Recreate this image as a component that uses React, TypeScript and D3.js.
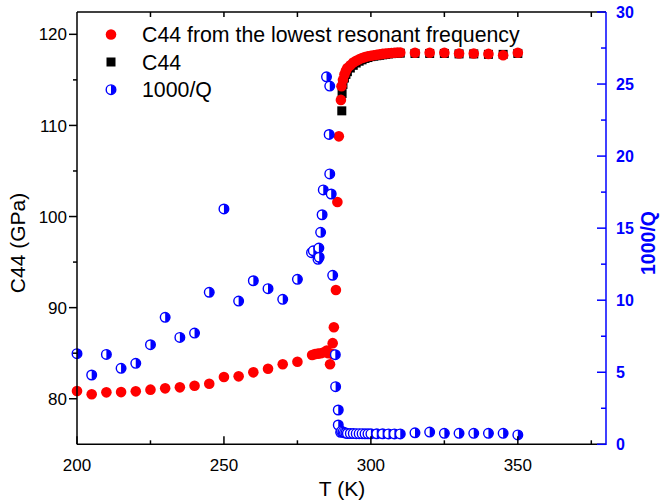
import React from "react";
import * as d3 from "d3";

// ---------- data ----------
// C44 from the lowest resonant frequency (red circles), left axis
const redT = [200, 205, 210, 215, 220, 225, 230, 235, 240, 245, 250, 255, 260, 265, 270, 275, 280, 281, 282, 283, 284, 285, 285.5, 286.1, 286.9, 287.0, 287.4, 288.1, 288.6, 289.1, 289.8, 290.0, 290.5, 291, 291.5, 292, 293, 294, 295, 296, 297, 298, 299, 300, 301, 302, 303, 304, 305, 306, 307, 308, 309, 310, 315, 320, 325, 330, 335, 340, 345, 350];
const redV = [80.85, 80.5, 80.7, 80.73, 80.81, 81.0, 81.14, 81.25, 81.43, 81.65, 82.38, 82.46, 82.9, 83.3, 83.78, 84.06, 84.8, 84.9, 84.95, 85.0, 85.1, 85.3, 85.0, 83.78, 84.9, 86.1, 87.85, 91.93, 101.6, 108.8, 112.8, 114.3, 115.0, 115.6, 116.0, 116.3, 116.6, 116.9, 117.1, 117.25, 117.4, 117.5, 117.6, 117.65, 117.7, 117.75, 117.8, 117.85, 117.9, 117.92, 117.95, 117.97, 118.0, 118.0, 117.98, 117.98, 117.98, 117.9, 117.9, 117.85, 117.7, 117.98];

// C44 (black squares), left axis
const blackT = [290.1, 290.2, 290.5, 291, 291.5, 292, 293, 294, 295, 296, 297, 298, 299, 300, 301, 302, 303, 304, 305, 306, 307, 308, 309, 310, 315, 320, 325, 330, 335, 340, 345, 350];
const blackV = [111.6, 113.5, 114.5, 115.2, 115.6, 115.9, 116.3, 116.6, 116.85, 117.05, 117.2, 117.35, 117.45, 117.55, 117.6, 117.65, 117.7, 117.75, 117.8, 117.85, 117.88, 117.9, 117.92, 117.93, 117.9, 117.9, 117.9, 117.85, 117.85, 117.8, 117.8, 117.9];

// 1000/Q (blue half-filled circles), right axis
const blueT = [200, 205, 210, 215, 220, 225, 230, 235, 240, 245, 250, 255, 260, 265, 270, 275, 279.8, 280.4, 282, 282.3, 282.4, 282.9, 283.4, 283.8, 284.9, 285.8, 286, 286, 286.5, 287, 287.9, 288, 288.9, 288.9, 289.7, 290, 290.5, 291, 291.5, 292, 293, 294, 295, 296, 297, 298, 299, 300, 302, 304, 306, 308, 310, 315, 320, 325, 330, 335, 340, 345, 350];
const blueV = [6.29, 4.81, 6.24, 5.27, 5.62, 6.91, 8.81, 7.42, 7.72, 10.55, 16.33, 9.94, 11.35, 10.8, 10.06, 11.45, 13.3, 13.43, 12.84, 13.62, 12.98, 14.71, 15.93, 17.65, 25.5, 21.5, 24.86, 18.76, 17.37, 11.73, 6.22, 4.0, 2.38, 1.34, 0.83, 0.9, 0.85, 0.8, 0.78, 0.75, 0.75, 0.75, 0.74, 0.74, 0.74, 0.73, 0.73, 0.73, 0.73, 0.73, 0.72, 0.72, 0.72, 0.8, 0.85, 0.76, 0.76, 0.76, 0.76, 0.76, 0.65];

// ticks
const xMajor = [200, 250, 300, 350];
const xMinor = [225, 275, 325, 375];
const yLMajor = [80, 90, 100, 110, 120];
const yLMinor = [85, 95, 105, 115];
const yRMajor = [0, 5, 10, 15, 20, 25, 30];
const yRMinor = [2.5, 7.5, 12.5, 17.5, 22.5, 27.5];

const legendLabels = ["C44 from the lowest resonant frequency", "C44", "1000/Q"];

// ---------- layout ----------
const W = 660, H = 502;
const L = 77, R = 606, T = 12, B = 444.3;
const FONT = "Arial, 'Liberation Sans', sans-serif";
const RED = "#ff0000", BLUE = "#0000ff";

const x = d3.scaleLinear().domain([200, 380]).range([L, R]);
const yL = d3.scaleLinear().domain([75, 122.45]).range([B, T]);
const yR = d3.scaleLinear().domain([0, 30]).range([B, T]);

const HalfCircle = ({ cx, cy, r = 4.8 }: { cx: number; cy: number; r?: number }) => (
  <g transform={`translate(${cx},${cy})`}>
    <circle r={r} fill="#fff" stroke={BLUE} strokeWidth={1.4} />
    <path d={`M0,${-r} A${r},${r} 0 0 1 0,${r} Z`} fill={BLUE} />
  </g>
);

export default function App() {
  return (
    <svg width={W} height={H} style={{ position: "absolute", left: 0, top: 0, background: "#fff" }} fontFamily={FONT}>
      <rect width={W} height={H} fill="#fff" />
      {/* data: black squares */}
      <g>
        {blackT.map((t, i) => (
          <rect key={"b" + i} x={x(t) - 4.5} y={yL(blackV[i]) - 4.5} width={9} height={9} fill="#000" />
        ))}
      </g>
      {/* red circles */}
      <g>
        {redT.map((t, i) => (
          <circle key={"r" + i} cx={x(t)} cy={yL(redV[i])} r={5.3} fill={RED} />
        ))}
      </g>
      {/* blue half circles */}
      <g>
        {blueT.map((t, i) => (
          <HalfCircle key={"q" + i} cx={x(t)} cy={yR(blueV[i])} />
        ))}
      </g>

      {/* frame */}
      <line x1={L} x2={R} y1={T} y2={T} stroke="#000" strokeWidth={1.5} />
      <line x1={L} x2={R} y1={B} y2={B} stroke="#000" strokeWidth={1.5} />
      <line x1={L} x2={L} y1={T} y2={B} stroke="#000" strokeWidth={1.5} />
      <line x1={R} x2={R} y1={T} y2={B + 0.75} stroke={BLUE} strokeWidth={1.5} />

      {/* bottom axis ticks (inward) */}
      {xMajor.map((v) => (
        <g key={"xb" + v}>
          <line x1={x(v)} x2={x(v)} y1={B} y2={B - 8} stroke="#000" strokeWidth={1.5} />
          <text x={x(v)} y={471} fontSize={17} textAnchor="middle">{v}</text>
        </g>
      ))}
      {xMinor.map((v) => (
        <line key={"xm" + v} x1={x(v)} x2={x(v)} y1={B} y2={B - 4} stroke="#000" strokeWidth={1.5} />
      ))}
      {/* top axis ticks */}
      {[...xMajor, ...xMinor].filter((v) => v > 200).map((v) => (
        <line key={"xt" + v} x1={x(v)} x2={x(v)} y1={T} y2={T + 5} stroke="#000" strokeWidth={1.5} />
      ))}

      {/* left axis (outward ticks) */}
      {yLMajor.map((v) => (
        <g key={"yl" + v}>
          <line x1={L} x2={L - 8} y1={yL(v)} y2={yL(v)} stroke="#000" strokeWidth={1.5} />
          <text x={67} y={yL(v)} dy="0.36em" fontSize={17} textAnchor="end">{v}</text>
        </g>
      ))}
      {yLMinor.map((v) => (
        <line key={"ylm" + v} x1={L} x2={L - 4} y1={yL(v)} y2={yL(v)} stroke="#000" strokeWidth={1.5} />
      ))}

      {/* right axis (blue, inward ticks) */}
      {yRMajor.map((v) => (
        <g key={"yr" + v}>
          <line x1={R} x2={R - 9} y1={yR(v)} y2={yR(v)} stroke={BLUE} strokeWidth={1.5} />
          <text x={616} y={yR(v)} dy="0.36em" fontSize={16} fontWeight="bold" fill={BLUE}>{v}</text>
        </g>
      ))}
      {yRMinor.map((v) => (
        <line key={"yrm" + v} x1={R} x2={R - 5} y1={yR(v)} y2={yR(v)} stroke={BLUE} strokeWidth={1.5} />
      ))}

      {/* axis titles */}
      <text x={342} y={496} fontSize={21} textAnchor="middle">T (K)</text>
      <text transform="translate(25,243) rotate(-90)" fontSize={21} textAnchor="middle">C44 (GPa)</text>
      <text transform="translate(655,243) rotate(-90)" fontSize={19.5} fontWeight="bold" fill={BLUE} textAnchor="middle">1000/Q</text>

      {/* legend */}
      <circle cx={111} cy={34.5} r={5.3} fill={RED} />
      <rect x={111 - 4.5} y={62 - 4.5} width={9} height={9} fill="#000" />
      <HalfCircle cx={111} cy={89.7} />
      {legendLabels.map((s, i) => (
        <text key={"lg" + i} x={142} y={[34.5, 62, 89.7][i]} dy="0.36em" fontSize={21.3}>{s}</text>
      ))}
    </svg>
  );
}
